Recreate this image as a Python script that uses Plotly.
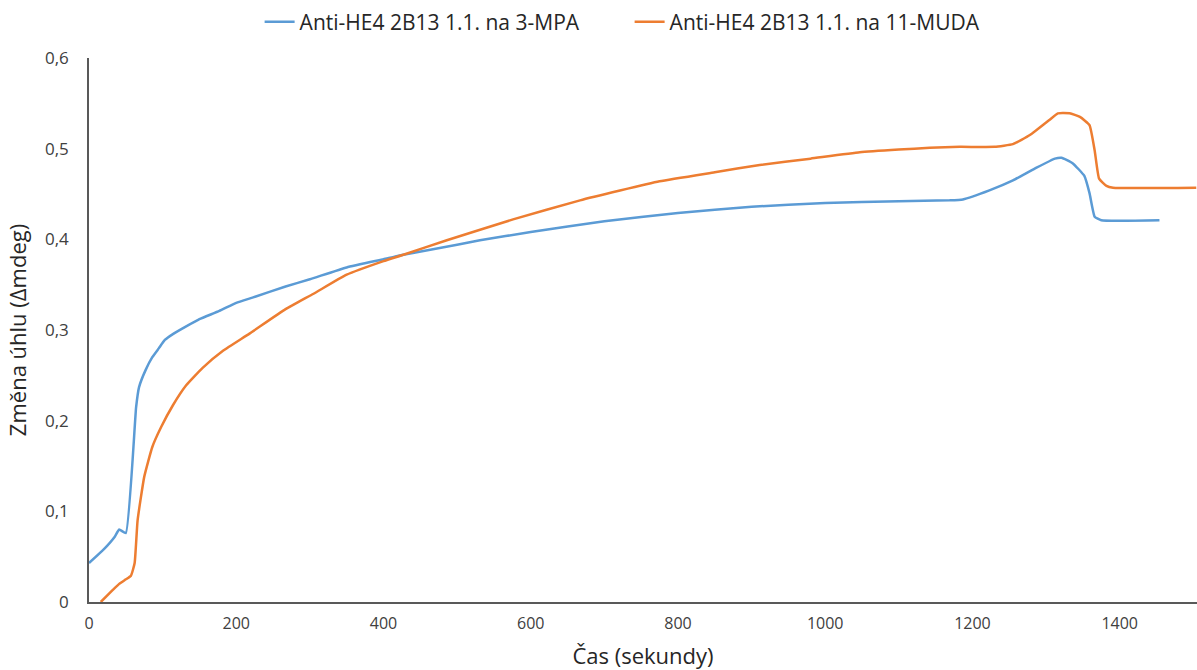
import plotly.graph_objects as go

# Time (s) and angle change (Δmdeg) for the 3-MPA layer
t_mpa = [0, 20, 35, 41, 50, 64, 68, 77, 86, 95, 103, 115, 132, 150, 177, 200,
         223, 267, 300, 350, 400, 427, 500, 531, 600, 700, 800, 900, 1000,
         1100, 1169, 1187, 1223, 1255, 1287, 1312, 1321, 1336, 1352, 1359,
         1366, 1375, 1454]
y_mpa = [0.043, 0.058, 0.072, 0.080, 0.076, 0.215, 0.237, 0.256, 0.270, 0.280,
         0.289, 0.296, 0.304, 0.312, 0.321, 0.330, 0.336, 0.348, 0.356, 0.369,
         0.378, 0.383, 0.394, 0.399, 0.408, 0.420, 0.429, 0.436, 0.440,
         0.442, 0.443, 0.444, 0.454, 0.465, 0.479, 0.489, 0.490, 0.484, 0.470,
         0.451, 0.425, 0.421, 0.421]

# Time (s) and angle change (Δmdeg) for the 11-MUDA layer
t_muda = [16, 32, 41, 50, 57, 62, 66, 75, 86, 98, 114, 132, 154, 182, 218, 267,
          305, 350, 400, 427, 486, 576, 667, 775, 850, 911, 980, 1047, 1100,
          1142, 1183, 1230, 1255, 1278, 1305, 1316, 1332, 1346, 1359, 1366,
          1372, 1382, 1391, 1504]
y_muda = [0.000, 0.013, 0.020, 0.025, 0.029, 0.043, 0.090, 0.138, 0.171, 0.193,
          0.217, 0.239, 0.258, 0.277, 0.296, 0.323, 0.340, 0.361, 0.376, 0.383,
          0.399, 0.422, 0.443, 0.464, 0.474, 0.482, 0.489, 0.496, 0.499,
          0.501, 0.502, 0.502, 0.505, 0.515, 0.532, 0.539, 0.539, 0.535, 0.526,
          0.498, 0.467, 0.459, 0.457, 0.457]

series_names = ["Anti-HE4 2B13 1.1. na 3-MPA", "Anti-HE4 2B13 1.1. na 11-MUDA"]
y_ticks = [0, 0.1, 0.2, 0.3, 0.4, 0.5, 0.6]
y_tick_text = ["0", "0,1", "0,2", "0,3", "0,4", "0,5", "0,6"]
x_ticks = [0, 200, 400, 600, 800, 1000, 1200, 1400]

FONT = "Open Sans, Noto Sans, sans-serif"
TEXT = "#404040"
TITLE = "#262626"

fig = go.Figure()
fig.add_trace(go.Scatter(x=t_mpa, y=y_mpa, mode="lines", name=series_names[0],
                         line=dict(color="#5B9BD5", width=2.5,
                                   shape="spline", smoothing=0.4)))
fig.add_trace(go.Scatter(x=t_muda, y=y_muda, mode="lines", name=series_names[1],
                         line=dict(color="#ED7D31", width=2.5,
                                   shape="spline", smoothing=0.4)))

fig.update_layout(
    width=1197, height=670,
    margin=dict(l=89, r=0, t=58, b=68),
    paper_bgcolor="white", plot_bgcolor="white",
    font=dict(family=FONT, size=16, color=TEXT),
    showlegend=True,
    legend=dict(orientation="h", xref="container", yref="container",
                x=0.526, xanchor="center", y=0.967, yanchor="middle",
                font=dict(size=21, color=TITLE), itemwidth=30,
                entrywidth=325, entrywidthmode="pixels"),
    xaxis=dict(range=[0, 1505], tickvals=x_ticks, showgrid=False, zeroline=False,
               showline=True, linecolor="#595959", linewidth=1.5, ticks="",
               ticklabelstandoff=6, tickfont=dict(size=16, color=TEXT),
               title=dict(text="Čas (sekundy)", font=dict(size=22, color=TITLE),
                          standoff=17)),
    yaxis=dict(range=[0, 0.6], tickvals=y_ticks, ticktext=y_tick_text,
               showgrid=False, zeroline=False, showline=True,
               linecolor="#595959", linewidth=1.5, ticks="",
               ticklabelstandoff=15, tickfont=dict(size=17, color=TEXT),
               title=dict(text="Změna úhlu (Δmdeg)",
                          font=dict(size=22, color=TITLE), standoff=12)),
)

fig.write_html("out.html")
